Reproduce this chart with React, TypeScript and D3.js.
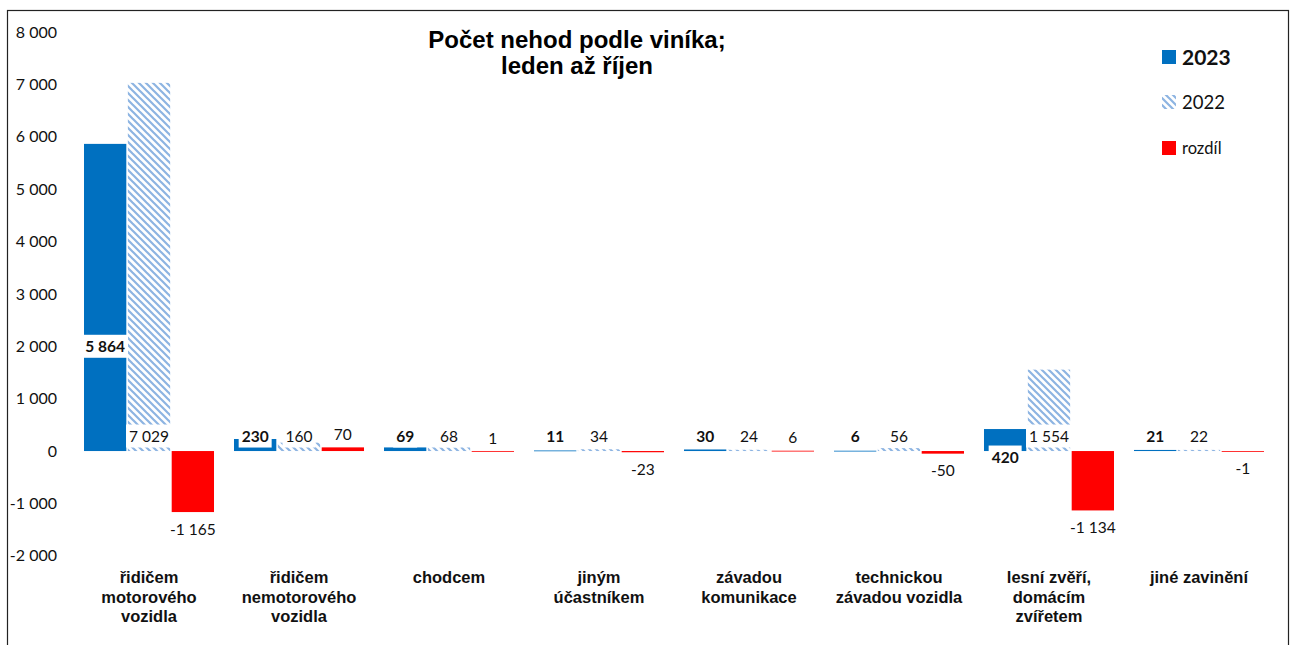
import React, { useEffect, useRef } from "react";
import * as d3 from "d3";

const categoryLines: string[][] = [
  ["řidičem", "motorového", "vozidla"],
  ["řidičem", "nemotorového", "vozidla"],
  ["chodcem"],
  ["jiným", "účastníkem"],
  ["závadou", "komunikace"],
  ["technickou", "závadou vozidla"],
  ["lesní zvěří,", "domácím", "zvířetem"],
  ["jiné zavinění"],
];
const categories = categoryLines.map((l) => l.join(" "));
const values2023 = [5864, 230, 69, 11, 30, 6, 420, 21];
const values2022 = [7029, 160, 68, 34, 24, 56, 1554, 22];
const valuesDiff = [-1165, 70, 1, -23, 6, -50, -1134, -1];
const yTicks = [-2000, -1000, 0, 1000, 2000, 3000, 4000, 5000, 6000, 7000, 8000];
const seriesNames = ["2023", "2022", "rozdíl"];
const titleLines = ["Počet nehod podle viníka;", "leden až říjen"];

const W = 1290;
const H = 645;
const BLUE = "#0070C0";
const HATCH = "#8DB4E2";
const RED = "#FF0000";
const NUM_FONT = "Lato, 'Open Sans', sans-serif";
const CAT_FONT = "'Liberation Sans', Arial, sans-serif";

export default function App() {
  const ref = useRef<SVGSVGElement>(null);

  useEffect(() => {
    const svg = d3.select(ref.current!);
    svg.selectAll("*").remove();

    const defs = svg.append("defs");
    const pat = defs
      .append("pattern")
      .attr("id", "hatch")
      .attr("patternUnits", "userSpaceOnUse")
      .attr("width", 7)
      .attr("height", 7);
    pat.append("rect").attr("width", 7).attr("height", 7).attr("fill", "white");
    pat
      .append("path")
      .attr("d", "M-1,-1 L8,8 M-4.5,2.5 L-0.5,6.5 M2.5,-4.5 L6.5,-0.5 M5.5,-1.5 L8.5,1.5 M-1.5,5.5 L1.5,8.5")
      .attr("stroke", HATCH)
      .attr("stroke-width", 2.2);

    const fmt = d3.formatLocale({
      thousands: " ",
      grouping: [3],
      decimal: ",",
      currency: ["", ""],
      minus: "-",
    }).format(",d");

    const y = d3.scaleLinear().domain([-2000, 8000]).range([555.8, 32]);
    const x = d3
      .scaleBand<string>()
      .domain(categories)
      .range([74, 1274])
      .paddingInner(0.1333)
      .paddingOuter(0.0667);
    const xs = d3
      .scaleBand<string>()
      .domain(seriesNames)
      .range([0, x.bandwidth()])
      .paddingInner(0.035);

    // frame
    svg
      .append("rect")
      .attr("x", 7.5)
      .attr("y", 10.5)
      .attr("width", 1281)
      .attr("height", 700)
      .attr("fill", "white")
      .attr("stroke", "#222")
      .attr("stroke-width", 1.2);

    // title
    const title = svg
      .append("text")
      .attr("x", 577)
      .attr("text-anchor", "middle")
      .attr("font-family", CAT_FONT)
      .attr("font-weight", "bold")
      .attr("font-size", 24)
      .attr("fill", "#000");
    titleLines.forEach((t, i) =>
      title.append("tspan").attr("x", 577).attr("y", 48 + i * 25.5).text(t)
    );

    // y ticks
    svg
      .append("g")
      .selectAll("text")
      .data(yTicks)
      .join("text")
      .attr("x", 57)
      .attr("y", (d) => y(d))
      .attr("dy", "0.35em")
      .attr("text-anchor", "end")
      .attr("font-family", NUM_FONT)
      .attr("font-size", 16)
      .attr("fill", "#111")
      .text((d) => fmt(d));

    const series = [
      { name: "2023", vals: values2023, fill: BLUE },
      { name: "2022", vals: values2022, fill: "url(#hatch)" },
      { name: "rozdíl", vals: valuesDiff, fill: RED },
    ];

    const barG = svg.append("g");
    series.forEach((s) => {
      barG
        .append("g")
        .selectAll("rect")
        .data(s.vals)
        .join("rect")
        .attr("x", (_, i) => x(categories[i])! + xs(s.name)!)
        .attr("width", xs.bandwidth())
        .attr("y", (d) => Math.min(y(d), y(0)))
        .attr("height", (d) => Math.max(Math.abs(y(d) - y(0)), 0.8))
        .attr("fill", s.fill);
    });

    // data labels
    const labelG = svg.append("g");
    const addLabel = (
      cx: number,
      cy: number,
      text: string,
      bold: boolean,
      bg: boolean
    ) => {
      const g = labelG.append("g");
      const rect = g.append("rect").attr("fill", "white");
      const t = g
        .append("text")
        .attr("x", cx)
        .attr("y", cy)
        .attr("dy", "0.36em")
        .attr("text-anchor", "middle")
        .attr("font-family", NUM_FONT)
        .attr("font-size", 15.5)
        .attr("font-weight", bold ? "bold" : "normal")
        .attr("fill", "#111")
        .text(text);
      if (bg) {
        const w = (t.node() as SVGTextElement).getComputedTextLength();
        rect
          .attr("x", cx - w / 2 - 3)
          .attr("y", cy - 11.5)
          .attr("width", w + 6)
          .attr("height", 23);
      } else rect.remove();
    };

    const base = y(0);
    values2023.forEach((v, i) => {
      const cx = x(categories[i])! + xs("2023")! + xs.bandwidth() / 2;
      let cy = base - 15;
      if (v > 3000) cy = y(2000);
      else if (v > 300) cy = base + 6;
      addLabel(cx, cy, fmt(v), true, true);
    });
    values2022.forEach((v, i) => {
      const cx = x(categories[i])! + xs("2022")! + xs.bandwidth() / 2;
      addLabel(cx, base - 15, fmt(v), false, true);
    });
    valuesDiff.forEach((v, i) => {
      const cx = x(categories[i])! + xs("rozdíl")! + xs.bandwidth() / 2;
      const cy = v >= 0 ? y(v) - 13 : y(v) + 17;
      addLabel(cx, cy, fmt(v), false, false);
    });

    // category labels
    const catG = svg.append("g");
    categoryLines.forEach((lines, i) => {
      const cx = x(categories[i])! + x.bandwidth() / 2;
      const t = catG
        .append("text")
        .attr("text-anchor", "middle")
        .attr("font-family", CAT_FONT)
        .attr("font-weight", "bold")
        .attr("font-size", 16.5)
        .attr("fill", "#111");
      lines.forEach((l, j) =>
        t.append("tspan").attr("x", cx).attr("y", 583 + j * 19.5).text(l)
      );
    });

    // legend
    const leg = svg.append("g");
    const legItems = [
      { name: "2023", fill: BLUE, y: 57, size: 21, bold: true },
      { name: "2022", fill: "url(#hatch)", y: 102, size: 18.5, bold: false },
      { name: "rozdíl", fill: RED, y: 148, size: 16.5, bold: false },
    ];
    legItems.forEach((it) => {
      leg
        .append("rect")
        .attr("x", 1162)
        .attr("y", it.y - 7)
        .attr("width", 14)
        .attr("height", 14)
        .attr("fill", it.fill);
      leg
        .append("text")
        .attr("x", 1182)
        .attr("y", it.y)
        .attr("dy", "0.36em")
        .attr("font-family", NUM_FONT)
        .attr("font-size", it.size)
        .attr("font-weight", it.bold ? "bold" : "normal")
        .attr("fill", "#111")
        .text(it.name);
    });
  }, []);

  return (
    <svg
      ref={ref}
      width={W}
      height={H}
      style={{ position: "absolute", left: 0, top: 0, background: "white" }}
    />
  );
}
